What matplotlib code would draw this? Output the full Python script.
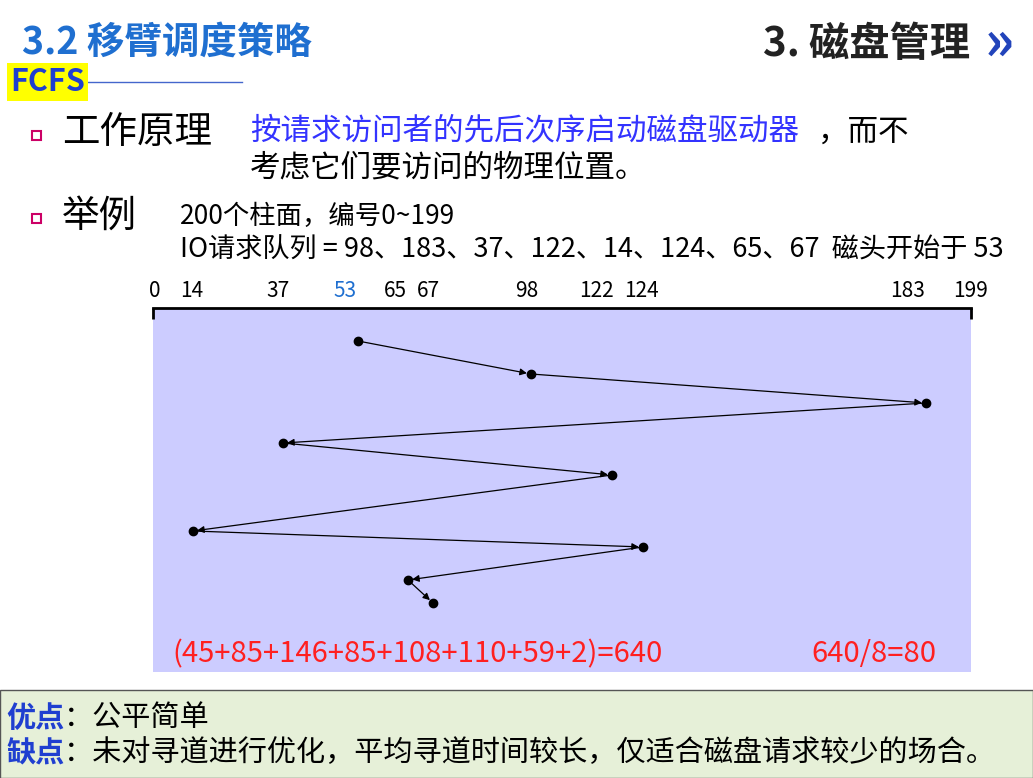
import matplotlib.pyplot as plt
import numpy as np
from matplotlib.patches import Rectangle

plt.rcParams['font.family'] = ['Noto Sans CJK SC', 'DejaVu Sans']

tracks = [53, 98, 183, 37, 122, 14, 124, 65, 67]
rows = [341, 374, 403, 443, 475, 531, 547, 580, 603]   # vertical position of each step
tick_vals = [0, 14, 37, 53, 65, 67, 98, 122, 124, 183, 199]
# the original axis is not drawn to scale: horizontal place of each cylinder in the picture
scale_px = [153, 193, 283, 358, 408, 433, 531, 612, 643, 926, 971]
label_px = [155, 192, 278, 345, 395, 428, 527, 596, 641, 908, 971]

W, H = 1033, 778
fig = plt.figure(figsize=(W / 100, H / 100), dpi=100)


def fx(px):
    return px / W


def fy(py):
    return 1 - py / H


def fwd(x):
    return np.interp(x, tick_vals, scale_px)


def inv(p):
    return np.interp(p, scale_px, tick_vals)


ax = fig.add_axes([fx(153), fy(672), fx(971) - fx(153), fy(308) - fy(672)])
ax.set_facecolor('#ccccff')
ax.set_xscale('function', functions=(fwd, inv))
ax.set_xlim(0, 199)
ax.set_ylim(672, 308)
for s in ['left', 'right', 'bottom']:
    ax.spines[s].set_visible(False)
ax.spines['top'].set_linewidth(2)
ax.set_yticks([])
ax.xaxis.tick_top()
ax.set_xticks([0, 199])
ax.set_xticklabels([])
ax.tick_params(axis='x', direction='in', length=8, width=2)
ax.set_xticks([], minor=True)
for v, px in zip(tick_vals, label_px):
    fig.text(fx(px), fy(291), str(v), fontsize=15, ha='center', va='center',
             color='#1f6fd0' if v == 53 else 'black')

ax.plot(tracks, rows, 'o', color='black', ms=6)
for i in range(len(tracks) - 1):
    ax.annotate('', xy=(tracks[i + 1], rows[i + 1]), xytext=(tracks[i], rows[i]),
                arrowprops=dict(arrowstyle='-|>', color='black', lw=0.9,
                                shrinkA=3, shrinkB=3, mutation_scale=10))
fig.text(fx(172), fy(654), '(45+85+146+85+108+110+59+2)=640', color='#ff2020', fontsize=21, va='center')
fig.text(fx(936), fy(654), '640/8=80', color='#ff2020', fontsize=21, va='center', ha='right')

# header
fig.text(fx(22), fy(42), '3.2 移臂调度策略', color='#1f6fd0', fontsize=27, fontweight='bold', va='center')
fig.text(fx(970), fy(44), '3. 磁盘管理', color='#222222', fontsize=29, fontweight='bold', va='center', ha='right')
fig.text(fx(985), fy(44), '»', color='#2244bb', fontsize=40, fontweight='bold', va='center')
fig.text(fx(10), fy(82), 'FCFS', color='#1f3fd0', fontsize=22, fontweight='bold', va='center',
         bbox=dict(facecolor='#ffff00', edgecolor='none', pad=2))
fig.add_artist(plt.Line2D([fx(86), fx(242)], [fy(82), fy(82)], color='#4466cc', lw=1))

for py in (135, 218):
    fig.add_artist(Rectangle((fx(32), fy(py) - 0.007), 0.009, 0.012, facecolor='white',
                             edgecolor='#cc0066', lw=1.5))
fig.text(fx(62), fy(132), '工作原理', fontsize=27, va='center')
fig.text(fx(250), fy(132), '按请求访问者的先后次序启动磁盘驱动器', color='#3333ff', fontsize=22, va='center')
fig.text(fx(818), fy(132), '，而不', fontsize=22, va='center')
fig.text(fx(250), fy(168), '考虑它们要访问的物理位置。', fontsize=22, va='center')
fig.text(fx(62), fy(216), '举例', fontsize=27, va='center')
fig.text(fx(180), fy(216), '200个柱面，编号0~199', fontsize=19, va='center')
fig.text(fx(180), fy(250), 'IO请求队列 = 98、183、37、122、14、124、65、67  磁头开始于 53',
         fontsize=19.5, va='center')

# bottom box
fig.add_artist(Rectangle((0, 0), 1, fy(690), facecolor='#e6f0d8', edgecolor='#555555', lw=1))
fig.text(fx(6), fy(718), '优点', color='#1f3fd0', fontsize=21, fontweight='bold', va='center')
fig.text(fx(64), fy(718), '：公平简单', fontsize=21, va='center')
fig.text(fx(6), fy(753), '缺点', color='#1f3fd0', fontsize=21, fontweight='bold', va='center')
fig.text(fx(64), fy(753), '：未对寻道进行优化，平均寻道时间较长，仅适合磁盘请求较少的场合。',
         fontsize=21, va='center')

fig.savefig('out.png', dpi=100)
